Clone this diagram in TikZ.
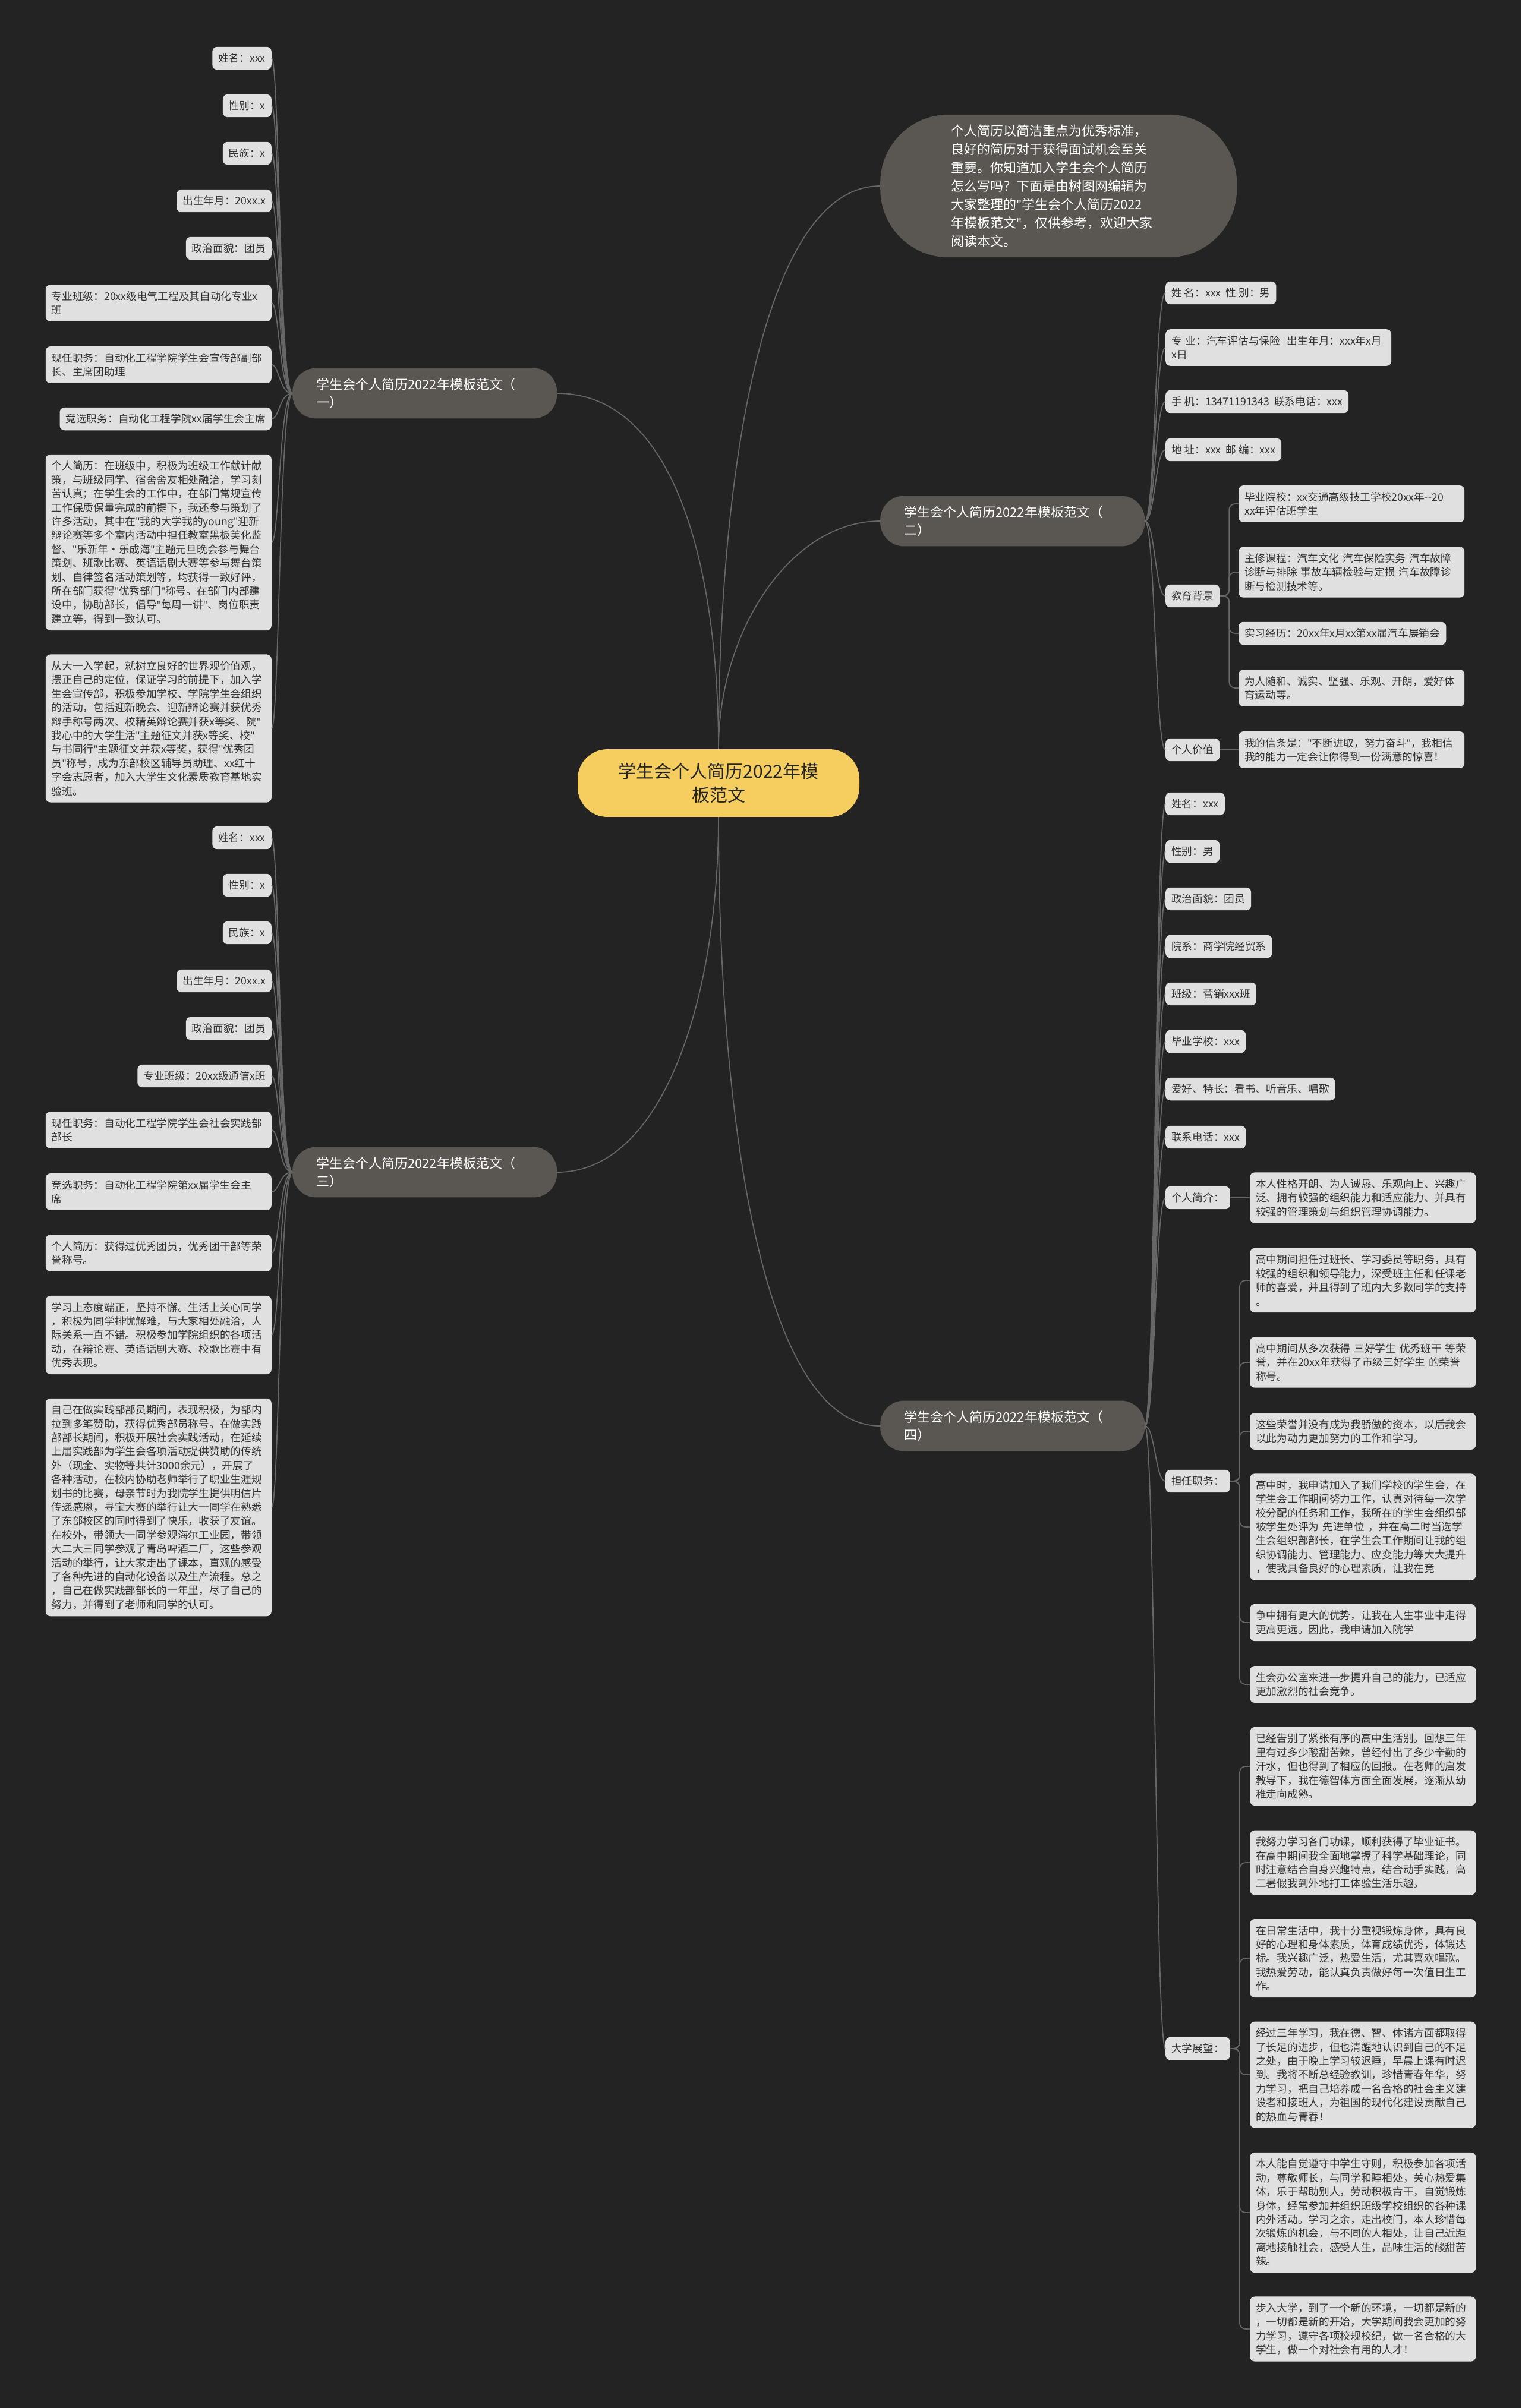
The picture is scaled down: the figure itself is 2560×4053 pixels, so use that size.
\documentclass[tikz,border=0pt]{standalone}
\usepackage{fontspec}
\setmainfont{Noto Sans CJK SC}
\newfontfamily\quotefont{Noto Sans}
\newcommand{\dq}{{\quotefont"}}
\definecolor{bgdark}{HTML}{232323}
\definecolor{leafgray}{HTML}{E0E0E0}
\definecolor{branchgray}{HTML}{5A5652}
\definecolor{rootyellow}{HTML}{F5CE5F}
\definecolor{linegray}{HTML}{666666}
\definecolor{inktext}{HTML}{333333}
\begin{document}
\begin{tikzpicture}[x=1pt, y=1pt,
  link/.style={draw=linegray, line width=1.8pt},
  elbow/.style={link, rounded corners=10pt},
  leaf/.style={fill=leafgray, text=inktext, rounded corners=8pt, inner xsep=10pt, inner ysep=11pt, font=\fontsize{17.7pt}{23.4pt}\selectfont},
  para/.style={leaf, text width=360pt, align=left},
  branch/.style={fill=branchgray, text=white, rounded corners=40pt, inner xsep=40pt, inner ysep=17pt, text width=365pt, align=left, font=\fontsize{22pt}{30pt}\selectfont},
  root/.style={fill=rootyellow, text=black!85, rounded corners=50pt, inner xsep=27pt, inner ysep=23pt, text width=420pt, align=center, font=\fontsize{30pt}{40pt}\selectfont},
  intro/.style={fill=branchgray, text=white, rounded corners=115pt, inner xsep=119pt, inner ysep=17pt, text width=362pt, align=left, font=\fontsize{22pt}{31pt}\selectfont}]
  \fill[bgdark] (0,0) rectangle (2560,-4053);
  % centre et branches
  \node[root] (root) at (1209,-1318) {学生会个人简历2022年模\\板范文};
  \node[intro, anchor=west] (intro) at (1481,-313) {个人简历以简洁重点为优秀标准，\\良好的简历对于获得面试机会至关\\重要。你知道加入学生会个人简历\\怎么写吗？下面是由树图网编辑为\\大家整理的\dq 学生会个人简历2022\\年模板范文\dq ，仅供参考，欢迎大家\\阅读本文。};
  \node[branch, anchor=west] (b1) at (492,-662) {学生会个人简历2022年模板范文（\\一）};
  \node[branch, anchor=west] (b2) at (1481,-877) {学生会个人简历2022年模板范文（\\二）};
  \node[branch, anchor=west] (b3) at (492,-1973) {学生会个人简历2022年模板范文（\\三）};
  \node[branch, anchor=west] (b4) at (1481,-2400) {学生会个人简历2022年模板范文（\\四）};
  \draw[link] (root.north) .. controls +(0,450) and +(-200,0) .. (intro.west);
  \draw[link] (root.north) .. controls +(0,300) and +(200,0) .. (b1.east);
  \draw[link] (root.north) .. controls +(0,200) and +(-150,0) .. (b2.west);
  \draw[link] (root.south) .. controls +(0,-300) and +(180,0) .. (b3.east);
  \draw[link] (root.south) .. controls +(0,-500) and +(-200,0) .. (b4.west);
  % branche (一)
  \node[leaf, anchor=east] (a1) at (457,-98) {姓名：xxx};
  \node[leaf, anchor=east] (a2) at (457,-178) {性别：x};
  \node[leaf, anchor=east] (a3) at (457,-258) {民族：x};
  \node[leaf, anchor=east] (a4) at (457,-338) {出生年月：20xx.x};
  \node[leaf, anchor=east] (a5) at (457,-418) {政治面貌：团员};
  \node[para, anchor=east] (a6) at (457,-510) {专业班级：20xx级电气工程及其自动化专业x\\班};
  \node[para, anchor=east] (a7) at (457,-614) {现任职务：自动化工程学院学生会宣传部副部\\长、主席团助理};
  \node[leaf, anchor=east] (a8) at (457,-705) {竞选职务：自动化工程学院xx届学生会主席};
  \node[para, anchor=east] (a9) at (457,-913) {个人简历：在班级中，积极为班级工作献计献\\策，与班级同学、宿舍舍友相处融洽，学习刻\\苦认真；在学生会的工作中，在部门常规宣传\\工作保质保量完成的前提下，我还参与策划了\\许多活动，其中在\dq 我的大学我的young\dq 迎新\\辩论赛等多个室内活动中担任教室黑板美化监\\督、\dq 乐新年·乐成海\dq 主题元旦晚会参与舞台\\策划、班歌比赛、英语话剧大赛等参与舞台策\\划、自律签名活动策划等，均获得一致好评，\\所在部门获得\dq 优秀部门\dq 称号。在部门内部建\\设中，协助部长，倡导\dq 每周一讲\dq 、岗位职责\\建立等，得到一致认可。};
  \node[para, anchor=east] (a10) at (457,-1226) {从大一入学起，就树立良好的世界观价值观，\\摆正自己的定位，保证学习的前提下，加入学\\生会宣传部，积极参加学校、学院学生会组织\\的活动，包括迎新晚会、迎新辩论赛并获优秀\\辩手称号两次、校精英辩论赛并获x等奖、院\dq\\我心中的大学生活\dq 主题征文并获x等奖、校\dq\\与书同行\dq 主题征文并获x等奖，获得\dq 优秀团\\员\dq 称号，成为东部校区辅导员助理、xx红十\\字会志愿者，加入大学生文化素质教育基地实\\验班。};
  \draw[link] (b1.west) .. controls +(-22,0) and +(13,0) .. (a1.east);
  \draw[link] (b1.west) .. controls +(-22,0) and +(13,0) .. (a2.east);
  \draw[link] (b1.west) .. controls +(-22,0) and +(13,0) .. (a3.east);
  \draw[link] (b1.west) .. controls +(-22,0) and +(13,0) .. (a4.east);
  \draw[link] (b1.west) .. controls +(-22,0) and +(13,0) .. (a5.east);
  \draw[link] (b1.west) .. controls +(-22,0) and +(13,0) .. (a6.east);
  \draw[link] (b1.west) .. controls +(-22,0) and +(13,0) .. (a7.east);
  \draw[link] (b1.west) .. controls +(-22,0) and +(13,0) .. (a8.east);
  \draw[link] (b1.west) .. controls +(-22,0) and +(13,0) .. (a9.east);
  \draw[link] (b1.west) .. controls +(-22,0) and +(13,0) .. (a10.east);
  % branche (二)
  \node[leaf, anchor=west] (d1) at (1961,-493) {姓~名：xxx~~性~别：男};
  \node[para, anchor=west] (d2) at (1961,-585) {专~业：汽车评估与保险~~出生年月：xxx年x月\\x日};
  \node[leaf, anchor=west] (d3) at (1961,-676) {手~机：13471191343~~联系电话：xxx};
  \node[leaf, anchor=west] (d4) at (1961,-757) {地~址：xxx~~邮~编：xxx};
  \node[leaf, anchor=west] (d5) at (1961,-1003) {教育背景};
  \node[leaf, anchor=west] (d6) at (1961,-1262) {个人价值};
  \node[para, anchor=west] (e1) at (2084,-848) {毕业院校：xx交通高级技工学校20xx年-{}-20\\xx年评估班学生};
  \node[para, anchor=west] (e2) at (2084,-963) {主修课程：汽车文化~汽车保险实务~汽车故障\\诊断与排除~事故车辆检验与定损~汽车故障诊\\断与检测技术等。};
  \node[leaf, anchor=west] (e3) at (2084,-1066) {实习经历：20xx年x月xx第xx届汽车展销会};
  \node[para, anchor=west] (e4) at (2084,-1158) {为人随和、诚实、坚强、乐观、开朗，爱好体\\育运动等。};
  \node[para, anchor=west] (e5) at (2084,-1262) {我的信条是：\dq 不断进取，努力奋斗\dq ，我相信\\我的能力一定会让你得到一份满意的惊喜！};
  \draw[link] (b2.east) .. controls +(17,0) and +(-17,0) .. (d1.west);
  \draw[link] (b2.east) .. controls +(17,0) and +(-17,0) .. (d2.west);
  \draw[link] (b2.east) .. controls +(17,0) and +(-17,0) .. (d3.west);
  \draw[link] (b2.east) .. controls +(17,0) and +(-17,0) .. (d4.west);
  \draw[link] (b2.east) .. controls +(17,0) and +(-17,0) .. (d5.west);
  \draw[link] (b2.east) .. controls +(17,0) and +(-17,0) .. (d6.west);
  \draw[elbow] (d5.east) -- ++(16,0) |- (e1.west);
  \draw[elbow] (d5.east) -- ++(16,0) |- (e2.west);
  \draw[elbow] (d5.east) -- ++(16,0) |- (e3.west);
  \draw[elbow] (d5.east) -- ++(16,0) |- (e4.west);
  \draw[link] (d6.east) -- (e5.west);
  % branche (三)
  \node[leaf, anchor=east] (c1) at (457,-1410) {姓名：xxx};
  \node[leaf, anchor=east] (c2) at (457,-1490) {性别：x};
  \node[leaf, anchor=east] (c3) at (457,-1570) {民族：x};
  \node[leaf, anchor=east] (c4) at (457,-1651) {出生年月：20xx.x};
  \node[leaf, anchor=east] (c5) at (457,-1731) {政治面貌：团员};
  \node[leaf, anchor=east] (c6) at (457,-1811) {专业班级：20xx级通信x班};
  \node[para, anchor=east] (c7) at (457,-1902) {现任职务：自动化工程学院学生会社会实践部\\部长};
  \node[para, anchor=east] (c8) at (457,-2006) {竞选职务：自动化工程学院第xx届学生会主\\席};
  \node[para, anchor=east] (c9) at (457,-2109) {个人简历：获得过优秀团员，优秀团干部等荣\\誉称号。};
  \node[para, anchor=east] (c10) at (457,-2247) {学习上态度端正，坚持不懈。生活上关心同学\\，积极为同学排忧解难，与大家相处融洽，人\\际关系一直不错。积极参加学院组织的各项活\\动，在辩论赛、英语话剧大赛、校歌比赛中有\\优秀表现。};
  \node[para, anchor=east] (c11) at (457,-2537) {自己在做实践部部员期间，表现积极，为部内\\拉到多笔赞助，获得优秀部员称号。在做实践\\部部长期间，积极开展社会实践活动，在延续\\上届实践部为学生会各项活动提供赞助的传统\\外（现金、实物等共计3000余元），开展了\\各种活动，在校内协助老师举行了职业生涯规\\划书的比赛，母亲节时为我院学生提供明信片\\传递感恩，寻宝大赛的举行让大一同学在熟悉\\了东部校区的同时得到了快乐，收获了友谊。\\在校外，带领大一同学参观海尔工业园，带领\\大二大三同学参观了青岛啤酒二厂，这些参观\\活动的举行，让大家走出了课本，直观的感受\\了各种先进的自动化设备以及生产流程。总之\\，自己在做实践部部长的一年里，尽了自己的\\努力，并得到了老师和同学的认可。};
  \draw[link] (b3.west) .. controls +(-22,0) and +(13,0) .. (c1.east);
  \draw[link] (b3.west) .. controls +(-22,0) and +(13,0) .. (c2.east);
  \draw[link] (b3.west) .. controls +(-22,0) and +(13,0) .. (c3.east);
  \draw[link] (b3.west) .. controls +(-22,0) and +(13,0) .. (c4.east);
  \draw[link] (b3.west) .. controls +(-22,0) and +(13,0) .. (c5.east);
  \draw[link] (b3.west) .. controls +(-22,0) and +(13,0) .. (c6.east);
  \draw[link] (b3.west) .. controls +(-22,0) and +(13,0) .. (c7.east);
  \draw[link] (b3.west) .. controls +(-22,0) and +(13,0) .. (c8.east);
  \draw[link] (b3.west) .. controls +(-22,0) and +(13,0) .. (c9.east);
  \draw[link] (b3.west) .. controls +(-22,0) and +(13,0) .. (c10.east);
  \draw[link] (b3.west) .. controls +(-22,0) and +(13,0) .. (c11.east);
  % branche (四)
  \node[leaf, anchor=west] (f1) at (1961,-1353) {姓名：xxx};
  \node[leaf, anchor=west] (f2) at (1961,-1433) {性别：男};
  \node[leaf, anchor=west] (f3) at (1961,-1513) {政治面貌：团员};
  \node[leaf, anchor=west] (f4) at (1961,-1593) {院系：商学院经贸系};
  \node[leaf, anchor=west] (f5) at (1961,-1673) {班级：营销xxx班};
  \node[leaf, anchor=west] (f6) at (1961,-1753) {毕业学校：xxx};
  \node[leaf, anchor=west] (f7) at (1961,-1833) {爱好、特长：看书、听音乐、唱歌};
  \node[leaf, anchor=west] (f8) at (1961,-1914) {联系电话：xxx};
  \node[leaf, anchor=west] (f9) at (1961,-2016) {个人简介：};
  \node[leaf, anchor=west] (f10) at (1961,-2493) {担任职务：};
  \node[leaf, anchor=west] (f11) at (1961,-3448) {大学展望：};
  \node[para, anchor=west] (g1) at (2103,-2016) {本人性格开朗、为人诚恳、乐观向上、兴趣广\\泛、拥有较强的组织能力和适应能力、并具有\\较强的管理策划与组织管理协调能力。};
  \node[para, anchor=west] (h1) at (2103,-2155) {高中期间担任过班长、学习委员等职务，具有\\较强的组织和领导能力，深受班主任和任课老\\师的喜爱，并且得到了班内大多数同学的支持\\。};
  \node[para, anchor=west] (h2) at (2103,-2293) {高中期间从多次获得~三好学生~优秀班干~等荣\\誉，并在20xx年获得了市级三好学生~的荣誉\\称号。};
  \node[para, anchor=west] (h3) at (2103,-2409) {这些荣誉并没有成为我骄傲的资本，以后我会\\以此为动力更加努力的工作和学习。};
  \node[para, anchor=west] (h4) at (2103,-2570) {高中时，我申请加入了我们学校的学生会，在\\学生会工作期间努力工作，认真对待每一次学\\校分配的任务和工作，我所在的学生会组织部\\被学生处评为~先进单位~，并在高二时当选学\\生会组织部部长，在学生会工作期间让我的组\\织协调能力、管理能力、应变能力等大大提升\\，使我具备良好的心理素质，让我在竞};
  \node[para, anchor=west] (h5) at (2103,-2731) {争中拥有更大的优势，让我在人生事业中走得\\更高更远。因此，我申请加入院学};
  \node[para, anchor=west] (h6) at (2103,-2835) {生会办公室来进一步提升自己的能力，已适应\\更加激烈的社会竞争。};
  \node[para, anchor=west] (i1) at (2103,-2973) {已经告别了紧张有序的高中生活别。回想三年\\里有过多少酸甜苦辣，曾经付出了多少辛勤的\\汗水，但也得到了相应的回报。在老师的启发\\教导下，我在德智体方面全面发展，逐渐从幼\\稚走向成熟。};
  \node[para, anchor=west] (i2) at (2103,-3135) {我努力学习各门功课，顺利获得了毕业证书。\\在高中期间我全面地掌握了科学基础理论，同\\时注意结合自身兴趣特点，结合动手实践，高\\二暑假我到外地打工体验生活乐趣。};
  \node[para, anchor=west] (i3) at (2103,-3296) {在日常生活中，我十分重视锻炼身体，具有良\\好的心理和身体素质，体育成绩优秀，体锻达\\标。我兴趣广泛，热爱生活，尤其喜欢唱歌。\\我热爱劳动，能认真负责做好每一次值日生工\\作。};
  \node[para, anchor=west] (i4) at (2103,-3492) {经过三年学习，我在德、智、体诸方面都取得\\了长足的进步，但也清醒地认识到自己的不足\\之处，由于晚上学习较迟睡，早晨上课有时迟\\到。我将不断总经验教训，珍惜青春年华，努\\力学习，把自己培养成一名合格的社会主义建\\设者和接班人，为祖国的现代化建设贡献自己\\的热血与青春！};
  \node[para, anchor=west] (i5) at (2103,-3724) {本人能自觉遵守中学生守则，积极参加各项活\\动，尊敬师长，与同学和睦相处，关心热爱集\\体，乐于帮助别人，劳动积极肯干，自觉锻炼\\身体，经常参加并组织班级学校组织的各种课\\内外活动。学习之余，走出校门，本人珍惜每\\次锻炼的机会，与不同的人相处，让自己近距\\离地接触社会，感受人生，品味生活的酸甜苦\\辣。};
  \node[para, anchor=west] (i6) at (2103,-3920) {步入大学，到了一个新的环境，一切都是新的\\，一切都是新的开始，大学期间我会更加的努\\力学习，遵守各项校规校纪，做一名合格的大\\学生，做一个对社会有用的人才！};
  \draw[link] (b4.east) .. controls +(17,0) and +(-17,0) .. (f1.west);
  \draw[link] (b4.east) .. controls +(17,0) and +(-17,0) .. (f2.west);
  \draw[link] (b4.east) .. controls +(17,0) and +(-17,0) .. (f3.west);
  \draw[link] (b4.east) .. controls +(17,0) and +(-17,0) .. (f4.west);
  \draw[link] (b4.east) .. controls +(17,0) and +(-17,0) .. (f5.west);
  \draw[link] (b4.east) .. controls +(17,0) and +(-17,0) .. (f6.west);
  \draw[link] (b4.east) .. controls +(17,0) and +(-17,0) .. (f7.west);
  \draw[link] (b4.east) .. controls +(17,0) and +(-17,0) .. (f8.west);
  \draw[link] (b4.east) .. controls +(17,0) and +(-17,0) .. (f9.west);
  \draw[link] (b4.east) .. controls +(17,0) and +(-17,0) .. (f10.west);
  \draw[link] (b4.east) .. controls +(17,0) and +(-17,0) .. (f11.west);
  \draw[link] (f9.east) -- (g1.west);
  \draw[elbow] (f10.east) -- ++(16,0) |- (h1.west);
  \draw[elbow] (f10.east) -- ++(16,0) |- (h2.west);
  \draw[elbow] (f10.east) -- ++(16,0) |- (h3.west);
  \draw[elbow] (f10.east) -- ++(16,0) |- (h4.west);
  \draw[elbow] (f10.east) -- ++(16,0) |- (h5.west);
  \draw[elbow] (f10.east) -- ++(16,0) |- (h6.west);
  \draw[elbow] (f11.east) -- ++(16,0) |- (i1.west);
  \draw[elbow] (f11.east) -- ++(16,0) |- (i2.west);
  \draw[elbow] (f11.east) -- ++(16,0) |- (i3.west);
  \draw[elbow] (f11.east) -- ++(16,0) |- (i4.west);
  \draw[elbow] (f11.east) -- ++(16,0) |- (i5.west);
  \draw[elbow] (f11.east) -- ++(16,0) |- (i6.west);
\end{tikzpicture}
\end{document}
